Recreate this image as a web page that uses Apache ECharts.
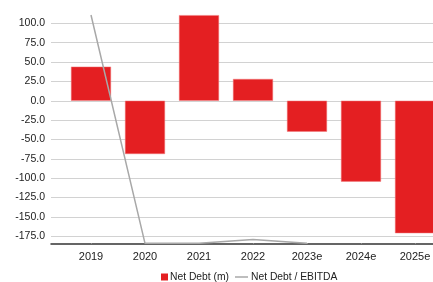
<!DOCTYPE html>
<html>
<head>
<meta charset="utf-8">
<script src="https://cdn.jsdelivr.net/npm/echarts@6/dist/echarts.min.js"></script>
<style>
  html, body { margin: 0; padding: 0; background: #fff; }
  #chart { width: 433px; height: 282px; }
</style>
</head>
<body>
<div id="chart"></div>
<script>
// data
const categories = ['2019', '2020', '2021', '2022', '2023e', '2024e', '2025e'];
const netDebt = [44.0, -68.8, 110.5, 28.1, -40.0, -104.5, -171.1];
const netDebtEbitda = [3.0, 0.0, 0.0, 0.05, 0.0, null, null];
const yTicks = [-175, -150, -125, -100, -75, -50, -25, 0, 25, 50, 75, 100];

const RED = '#E41F22';
const GREY = '#A8A8A8';
const font = 'Liberation Sans, Arial, sans-serif';

const chart = echarts.init(document.getElementById('chart'), null, { renderer: 'canvas' });

chart.setOption({
  animation: false,
  textStyle: { fontFamily: font },
  grid: [
    // frame: tick labels and split lines
    { left: 51, width: 382, top: 23.3, height: 213, outerBoundsMode: 'none' },
    // marks (runs past the right edge, like the cropped original)
    { left: 64, width: 378, top: 15, height: 228.3, outerBoundsMode: 'none' }
  ],
  legend: [
    {
      data: ['Net Debt (m)'],
      left: 161, top: 272,
      itemWidth: 7, itemHeight: 7, icon: 'rect',
      itemStyle: { borderWidth: 0 },
      padding: 0,
      textStyle: { fontSize: 10.3, color: '#222', fontFamily: font, padding: [0, 0, 0, -3] }
    },
    {
      data: ['Net Debt / EBITDA'],
      left: 235, top: 272,
      itemWidth: 13, itemHeight: 1.5, icon: 'rect',
      itemStyle: { color: GREY, borderWidth: 0 },
      padding: 0,
      textStyle: { fontSize: 10.3, color: '#222', fontFamily: font, padding: [0, 0, 0, -2] }
    }
  ],
  xAxis: [
    {
      gridIndex: 0,
      type: 'category',
      data: categories,
      offset: 7,
      axisLine: { show: true, onZero: false, lineStyle: { color: '#333', width: 1.5 } },
      axisTick: { show: false },
      axisLabel: { show: false },
      splitLine: { show: false }
    },
    {
      gridIndex: 1,
      type: 'category',
      data: categories,
      axisLine: { show: false, onZero: false },
      axisTick: {
        show: true, alignWithLabel: true, length: 2, inside: true,
        lineStyle: { color: '#fff', width: 1 }
      },
      axisLabel: { fontSize: 11, color: '#222', margin: 8, fontFamily: font },
      splitLine: { show: false }
    }
  ],
  yAxis: [
    {
      gridIndex: 0,
      type: 'value',
      min: -175, max: 100, interval: 25,
      axisLine: { show: false },
      axisTick: { show: false },
      axisLabel: {
        fontSize: 10.5, color: '#222', margin: 6, fontFamily: font,
        formatter: v => yTicks.includes(v) ? v.toFixed(1) : ''
      },
      splitLine: { lineStyle: { color: '#D2D2D2', width: 1.2 } }
    },
    {
      gridIndex: 1,
      type: 'value',
      min: -184.1, max: 110.7,
      show: false
    },
    {
      gridIndex: 1,
      type: 'value',
      min: 0, max: 3,
      show: false
    }
  ],
  series: [
    {
      name: 'Net Debt (m)',
      type: 'bar',
      xAxisIndex: 1, yAxisIndex: 1,
      data: netDebt,
      barWidth: 40,
      itemStyle: { color: RED, borderColor: '#F07A7C', borderWidth: 0.5 },
      z: 2
    },
    {
      name: 'Net Debt / EBITDA',
      type: 'line',
      xAxisIndex: 1, yAxisIndex: 2,
      data: netDebtEbitda,
      symbol: 'none',
      color: GREY,
      lineStyle: { color: GREY, width: 1.5 },
      clip: true,
      z: 3
    }
  ]
});
</script>
</body>
</html>
